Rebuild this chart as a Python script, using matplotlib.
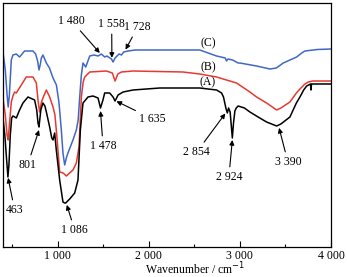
import numpy as np
import matplotlib
matplotlib.use("Agg")
import matplotlib.pyplot as plt
from matplotlib.ticker import FixedLocator, FuncFormatter

plt.rcParams['font.family'] = ['Liberation Serif', 'DejaVu Serif']

# ---------------- data (transmittance, arbitrary units) ----------------
wn_C = [400, 425, 445, 457, 470, 491, 509, 546, 582, 637, 729, 758, 780, 795, 810,
        821, 838, 876, 910, 949, 986, 1015, 1040, 1058, 1077, 1095, 1113, 1168, 1205,
        1225, 1242, 1260, 1278, 1308, 1352, 1400, 1443, 1462, 1480, 1516, 1540, 1590,
        1608, 1630, 1674, 1700, 1725, 1773, 1850, 2200, 2560, 2744, 2840, 2853, 2870,
        2920, 2981, 3000, 3183, 3330, 3400, 3476, 3550, 3623, 3678, 3714, 3850, 4000]
T_C = [195, 177, 152, 140, 152, 187, 192, 193, 190, 196, 196, 193, 186, 177, 183,
       189, 192, 184, 179, 169, 162, 144, 117, 94, 82, 89, 94, 107, 117,
       127, 150, 172, 184, 180, 191, 192, 191, 192, 193, 190, 191, 188,
       185, 189, 193, 192, 195, 196, 197, 197, 197, 191, 189, 186, 188,
       187, 184, 184, 181, 178, 179, 184, 187, 190, 194, 196, 197.5, 198]

wn_B = [400, 425, 445, 457, 470, 491, 509, 527, 546, 580, 601, 655, 729, 766, 784,
        802, 820, 838, 876, 912, 949, 970, 990, 1022, 1060, 1095, 1168, 1205, 1234,
        1260, 1280, 1297, 1352, 1535, 1600, 1630, 1660, 1700, 1827, 2375, 2560, 2744,
        2963, 3110, 3183, 3293, 3403, 3450, 3549, 3620, 3659, 3714, 3751, 3800, 4000]
T_B = [149, 132, 112, 107, 122, 145, 151, 155, 154, 159, 162, 170, 170, 164, 147,
       135, 144, 149, 157, 150, 140, 132, 112, 75, 74, 71, 77, 84, 100,
       150, 165, 170, 175, 176, 174, 166, 173, 175, 176, 175, 173, 170,
       164, 155, 150, 144, 137, 139, 145, 154, 158, 163, 165, 166, 166]

wn_A = [400, 420, 440, 454, 465, 480, 495, 509, 530, 546, 582, 619, 674, 747, 770,
        784, 795, 815, 838, 860, 876, 912, 935, 949, 967, 985, 1022, 1058, 1077, 1088,
        1132, 1187, 1223, 1249, 1278, 1333, 1388, 1443, 1470, 1497, 1516, 1571, 1608,
        1630, 1663, 1718, 1827, 2121, 2560, 2744, 2799, 2820, 2846, 2862, 2876, 2893,
        2905, 2917, 2930, 2945, 2960, 2981, 3050, 3110, 3200, 3293, 3403, 3450, 3549,
        3620, 3659, 3700, 3733, 3775, 3780, 3786, 3800, 4000]
T_A = [129, 112, 87, 70, 82, 112, 129, 131, 130, 129, 137, 144, 150, 147, 137,
       124, 120, 137, 144, 141, 135, 120, 109, 107, 114, 97, 67, 45, 44, 44,
       48, 54, 67, 117, 144, 150, 151, 149, 139, 147, 154, 154, 150,
       146, 152, 155, 157, 159, 159, 157, 154, 150, 139, 134, 139, 135,
       122, 109, 124, 136, 139, 141, 139, 135, 130, 125, 121, 123, 130,
       144, 150, 157, 161, 163, 157, 163, 163, 163]

# labels: (text, peak wavenumber, series, text position (wn, T), tip gap)
peak_labels = [
    ("463", 456, "A", (527, 37), -3),
    ("801", 795, "A", (670, 82), -3),
    ("1 086", 1100, "A", (1187, 17), -3),
    ("1 478", 1470, "A", (1498, 101), -3),
    ("1 635", 1645, "A", (2044, 128), -3),
    ("2 854", 2840, "A", (2527, 95), -8),
    ("2 924", 2917, "A", (2879, 70), -2),
    ("3 390", 3430, "A", (3527, 85), -3),
    ("1 480", 1462, "C", (1154, 226), 2),
    ("1 558", 1595, "C", (1593, 223), 2),
    ("1 728", 1745, "C", (1879, 220), 2),
]
curve_names = ["(A)", "(B)", "(C)"]
curve_name_pos = [(2648, 165), (2648, 180), (2648, 204)]

colors = {"A": "black", "B": "#e8392f", "C": "#3f68c6"}
series = {"A": (wn_A, T_A), "B": (wn_B, T_B), "C": (wn_C, T_C)}

# ---------------- figure ----------------
fig = plt.figure(figsize=(3.47, 2.77), dpi=100)
ax = fig.add_axes([3 / 347, 30 / 277, 328 / 347, 244 / 277])

for key in ["C", "B", "A"]:
    x, y = series[key]
    ax.plot(x, y, color=colors[key], lw=1.1, solid_joinstyle='round')

ax.set_xlim(400, 4000)
ax.set_ylim(0, 244)
ax.set_yticks([])

ax.xaxis.set_major_locator(FixedLocator([1000, 2000, 3000, 4000]))
ax.xaxis.set_minor_locator(FixedLocator([500, 1500, 2500, 3500]))
ax.xaxis.set_major_formatter(FuncFormatter(lambda v, p: f"{int(v):,}".replace(",", " ")))
ax.tick_params(axis='x', which='major', direction='in', length=4, width=0.8,
               labelsize=8.5, pad=2)
ax.tick_params(axis='x', which='minor', direction='in', length=2.5, width=0.8)
for s in ax.spines.values():
    s.set_linewidth(0.9)

ax.set_xlabel("Wavenumber / cm$^{-1}$", fontsize=8.5)
ax.xaxis.set_label_coords(0.585, -0.055)

for txt, w, key, tpos, gap in peak_labels:
    x, y = series[key]
    yt = np.interp(w, x, y) + gap
    ax.annotate(txt, xy=(w, yt), xytext=tpos, textcoords='data',
                ha='center', va='center', fontsize=8.5,
                arrowprops=dict(arrowstyle='-|>', color='black', lw=0.8,
                                mutation_scale=7, shrinkA=1, shrinkB=0))

for name, (px, py) in zip(curve_names, curve_name_pos):
    ax.text(px, py, name, ha='center', va='center', fontsize=8.5)

fig.savefig("out.png", dpi=100)
